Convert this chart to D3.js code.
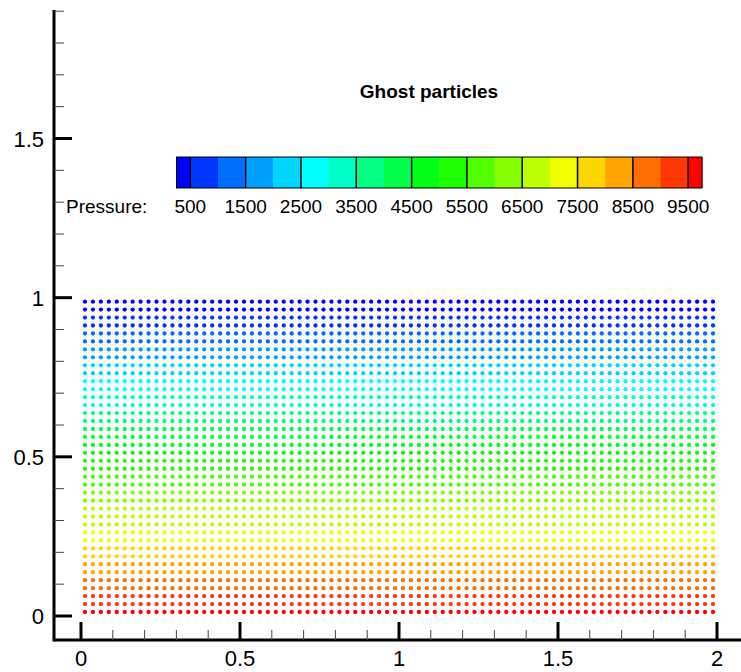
<!DOCTYPE html>
<meta charset="utf-8">
<script src="https://d3js.org/d3.v7.min.js"></script>
<style>
  body { margin: 0; background: #fff; }
  text { font-family: "Liberation Sans", Arial, sans-serif; }
</style>
<div id="chart"></div>
<script>

// particle columns (x) and rows (y)
var colX = [0.0125,0.0375,0.0625,0.0875,0.1125,0.1375,0.1625,0.1875,0.2125,0.2375,
            0.2625,0.2875,0.3125,0.3375,0.3625,0.3875,0.4125,0.4375,0.4625,0.4875,
            0.5125,0.5375,0.5625,0.5875,0.6125,0.6375,0.6625,0.6875,0.7125,0.7375,
            0.7625,0.7875,0.8125,0.8375,0.8625,0.8875,0.9125,0.9375,0.9625,0.9875,
            1.0125,1.0375,1.0625,1.0875,1.1125,1.1375,1.1625,1.1875,1.2125,1.2375,
            1.2625,1.2875,1.3125,1.3375,1.3625,1.3875,1.4125,1.4375,1.4625,1.4875,
            1.5125,1.5375,1.5625,1.5875,1.6125,1.6375,1.6625,1.6875,1.7125,1.7375,
            1.7625,1.7875,1.8125,1.8375,1.8625,1.8875,1.9125,1.9375,1.9625,1.9875];

var rowY = [0.0125,0.0375,0.0625,0.0875,0.1125,0.1375,0.1625,0.1875,0.2125,0.2375,
            0.2625,0.2875,0.3125,0.3375,0.3625,0.3875,0.4125,0.4375,0.4625,0.4875,
            0.5125,0.5375,0.5625,0.5875,0.6125,0.6375,0.6625,0.6875,0.7125,0.7375,
            0.7625,0.7875,0.8125,0.8375,0.8625,0.8875,0.9125,0.9375,0.9625,0.9875];

// pressure of each row (bottom to top), estimated from the colours
var rowPressure = [9690,9440,9200,8950,8710,8460,8210,7970,7720,7480,
                   7230,6990,6740,6500,6250,6010,5760,5520,5270,5030,
                   4780,4540,4290,4050,3800,3560,3310,3070,2820,2580,
                   2330,2090,1840,1600,1350,1110,860,610,370,120];

// contour levels and flood colours
var levels = [500,1000,1500,2000,2500,3000,3500,4000,4500,5000,
              5500,6000,6500,7000,7500,8000,8500,9000,9500];
var levelColors = ["#0000ff","#0037ff","#006eff","#00a0ff","#00d7ff",
                   "#00ffff","#00ffc8","#00ff82","#00ff4b","#00ff14",
                   "#1eff00","#50ff00","#87ff00","#bcff00","#f0ff00",
                   "#ffd700","#ffa500","#ff6e00","#ff3700","#ff0000"];
var legendLabels = [500,1500,2500,3500,4500,5500,6500,7500,8500,9500];
var legendRange = [250, 9750];

var xTicks = [0, 0.5, 1, 1.5, 2];
var yTicks = [0, 0.5, 1, 1.5];

var width = 741, height = 672;

var svg = d3.select("#chart").append("svg")
    .attr("width", width)
    .attr("height", height);

var x = d3.scaleLinear().domain([0, 2]).range([81, 717]);
var y = d3.scaleLinear().domain([0, 1.5]).range([616, 138.5]);
var color = d3.scaleThreshold().domain(levels).range(levelColors);

// particles
var pts = [];
rowY.forEach(function(yy, j) {
  colX.forEach(function(xx) { pts.push({x: xx, y: yy, p: rowPressure[j]}); });
});
svg.append("g").selectAll("circle")
  .data(pts)
  .enter().append("circle")
    .attr("cx", function(d) { return x(d.x); })
    .attr("cy", function(d) { return y(d.y); })
    .attr("r", 2.15)
    .attr("fill", function(d) { return color(d.p); });

// axes, Tecplot style
var axisX0 = 54, axisY0 = 640;
var yTop = y.invert(10);

svg.append("line")
  .attr("x1", axisX0).attr("x2", width)
  .attr("y1", axisY0).attr("y2", axisY0)
  .attr("stroke", "#000").attr("stroke-width", 3);
svg.append("line")
  .attr("x1", axisX0).attr("x2", axisX0)
  .attr("y1", 10).attr("y2", axisY0 + 1.5)
  .attr("stroke", "#000").attr("stroke-width", 3);

var xMinor = d3.range(1, 21).map(function(i) { return i / 10; }).filter(function(v) { return x(v) < width && Math.abs(v * 2 - Math.round(v * 2)) > 1e-6; });
var yMinor = d3.range(1, 20).map(function(i) { return i / 10; }).filter(function(v) { return v <= yTop + 1e-6 && Math.abs(v * 2 - Math.round(v * 2)) > 1e-6; });

svg.append("g").selectAll("line")
  .data(xMinor).enter().append("line")
    .attr("x1", function(d) { return x(d); }).attr("x2", function(d) { return x(d); })
    .attr("y1", axisY0).attr("y2", axisY0 - 10)
    .attr("stroke", "#444").attr("stroke-width", 1);
svg.append("g").selectAll("line")
  .data(xTicks).enter().append("line")
    .attr("x1", function(d) { return x(d); }).attr("x2", function(d) { return x(d); })
    .attr("y1", axisY0).attr("y2", axisY0 - 18)
    .attr("stroke", "#000").attr("stroke-width", 3);
svg.append("g").selectAll("text")
  .data(xTicks).enter().append("text")
    .attr("x", function(d) { return x(d); })
    .attr("y", 666)
    .attr("text-anchor", "middle")
    .attr("font-size", 22)
    .text(function(d) { return d; });

svg.append("g").selectAll("line")
  .data(yMinor).enter().append("line")
    .attr("x1", axisX0).attr("x2", axisX0 + 10)
    .attr("y1", function(d) { return y(d); }).attr("y2", function(d) { return y(d); })
    .attr("stroke", "#444").attr("stroke-width", 1);
svg.append("g").selectAll("line")
  .data(yTicks).enter().append("line")
    .attr("x1", axisX0).attr("x2", axisX0 + 18)
    .attr("y1", function(d) { return y(d); }).attr("y2", function(d) { return y(d); })
    .attr("stroke", "#000").attr("stroke-width", 3);
svg.append("g").selectAll("text")
  .data(yTicks).enter().append("text")
    .attr("x", 44)
    .attr("y", function(d) { return y(d) + 8; })
    .attr("text-anchor", "end")
    .attr("font-size", 22)
    .text(function(d) { return d; });

// title
svg.append("text")
  .attr("x", 429).attr("y", 98)
  .attr("text-anchor", "middle")
  .attr("font-size", 19)
  .attr("font-weight", "bold")
  .text("Ghost particles");

// colour legend
var lx = d3.scaleLinear().domain(legendRange).range([176.5, 702]);
var lTop = 157, lH = 31;
var bands = levelColors.map(function(c, i) {
  return {c: c,
          a: i === 0 ? legendRange[0] : levels[i - 1],
          b: i === levels.length ? legendRange[1] : levels[i]};
});
var leg = svg.append("g");
leg.selectAll("rect.band")
  .data(bands).enter().append("rect")
    .attr("class", "band")
    .attr("x", function(d) { return lx(d.a); })
    .attr("y", lTop)
    .attr("width", function(d) { return lx(d.b) - lx(d.a) + 0.5; })
    .attr("height", lH)
    .attr("fill", function(d) { return d.c; });
leg.selectAll("line.sep")
  .data(legendLabels).enter().append("line")
    .attr("class", "sep")
    .attr("x1", function(d) { return lx(d); }).attr("x2", function(d) { return lx(d); })
    .attr("y1", lTop).attr("y2", lTop + lH)
    .attr("stroke", "#000").attr("stroke-width", 1.5);
leg.append("rect")
  .attr("x", lx(legendRange[0])).attr("y", lTop)
  .attr("width", lx(legendRange[1]) - lx(legendRange[0]))
  .attr("height", lH)
  .attr("fill", "none").attr("stroke", "#000").attr("stroke-width", 1);
leg.selectAll("text.lab")
  .data(legendLabels).enter().append("text")
    .attr("class", "lab")
    .attr("x", function(d) { return lx(d); })
    .attr("y", 213)
    .attr("text-anchor", "middle")
    .attr("font-size", 19)
    .text(function(d) { return d; });
leg.append("text")
  .attr("x", 66).attr("y", 213)
  .attr("font-size", 19)
  .text("Pressure:");

</script>
